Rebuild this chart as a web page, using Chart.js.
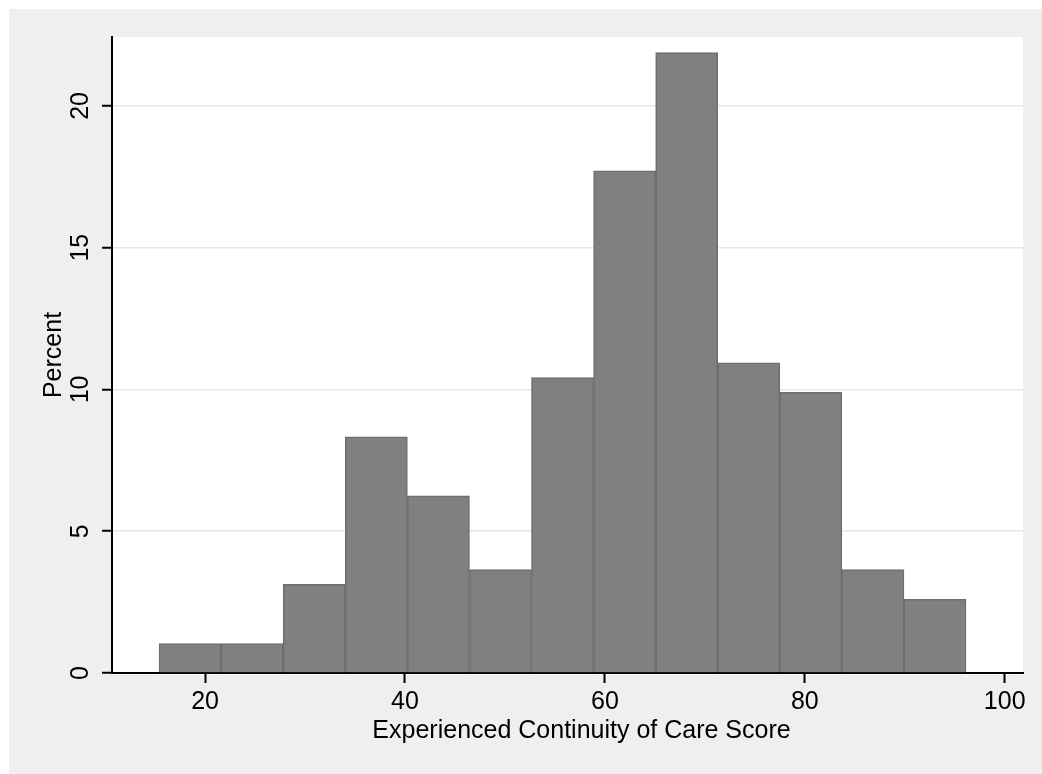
<!DOCTYPE html>
<html>
<head>
<meta charset="utf-8">
<script src="https://cdn.jsdelivr.net/npm/chart.js@4"></script>
<style>
  body { margin: 0; background: #efefef; }
  canvas { display: block; }
</style>
</head>
<body>
<canvas id="histChart" width="1042" height="774"></canvas>
<script>
// histogram bins (left/right edges) and percent in each bin
const binEdges = [15.40, 21.61, 27.82, 34.03, 40.24, 46.45, 52.66, 58.87, 65.08, 71.29, 77.50, 83.71, 89.92, 96.13];
const percents = [1.04, 1.04, 3.13, 8.33, 6.25, 3.65, 10.42, 17.71, 21.88, 10.94, 9.90, 3.65, 2.60];
const xTicks = [20, 40, 60, 80, 100];
const yTicks = [0, 5, 10, 15, 20];

const xTitle = 'Experienced Continuity of Care Score';
const yTitle = 'Percent';

const points = percents.map((p, i) => ({ x: (binEdges[i] + binEdges[i + 1]) / 2, y: p }));

const font = { family: '"Liberation Sans", Arial, sans-serif', size: 25 };

// stata-like grey background with white plot region, x title drawn a bit right of centre
const bgPlugin = {
  id: 'bgPlugin',
  beforeDraw(chart) {
    const c = chart.ctx, a = chart.chartArea;
    c.save();
    c.fillStyle = '#ffffff';
    c.fillRect(0, 0, chart.width, chart.height);
    c.fillStyle = '#efefef';
    c.fillRect(9, 9, chart.width - 9, chart.height - 9);
    c.fillStyle = '#ffffff';
    c.fillRect(a.left, a.top, a.right - a.left, a.bottom - a.top + 2);
    c.restore();
  },
  afterDraw(chart) {
    const c = chart.ctx, a = chart.chartArea;
    c.save();
    c.fillStyle = '#000';
    c.font = font.size + 'px ' + font.family;
    c.textAlign = 'center';
    c.textBaseline = 'middle';
    c.fillText(xTitle, (a.left + a.right) / 2 + 14, a.bottom + 58);
    c.restore();
  }
};

new Chart(document.getElementById('histChart'), {
  type: 'bar',
  data: {
    datasets: [{
      data: points,
      backgroundColor: '#808080',
      borderColor: '#6e6e6e',
      borderWidth: 1.5,
      barPercentage: 1,
      categoryPercentage: 1
    }]
  },
  options: {
    responsive: false,
    animation: false,
    layout: { padding: { top: 37, right: 19, bottom: 21, left: 9 } },
    plugins: { legend: { display: false }, tooltip: { enabled: true } },
    scales: {
      x: {
        type: 'linear',
        offset: false,
        min: 10.69,
        max: 101.83,
        z: 1,
        afterBuildTicks: (s) => { s.ticks = xTicks.map(v => ({ value: v })); },
        afterFit: (s) => { s.height = 80; },
        grid: { offset: false, drawOnChartArea: false, drawTicks: true, tickLength: 10, tickColor: '#000', tickWidth: 2 },
        border: { color: '#000', width: 2 },
        ticks: { color: '#000', font: font, padding: 4, maxRotation: 0 },
        title: { display: false }
      },
      y: {
        min: 0,
        max: 22.43,
        afterBuildTicks: (s) => { s.ticks = yTicks.map(v => ({ value: v })); },
        afterFit: (s) => { s.width = 103; },
        grid: { color: '#e6e6e6', lineWidth: 1.5, tickLength: 10, tickColor: '#000', tickWidth: 2 },
        border: { color: '#000', width: 2 },
        ticks: { color: '#000', font: font, padding: 7, minRotation: 90, maxRotation: 90, crossAlign: 'center' },
        title: { display: true, text: yTitle, color: '#000', font: font, padding: { top: 30, bottom: 0 } }
      }
    }
  },
  plugins: [bgPlugin]
});
</script>
</body>
</html>
